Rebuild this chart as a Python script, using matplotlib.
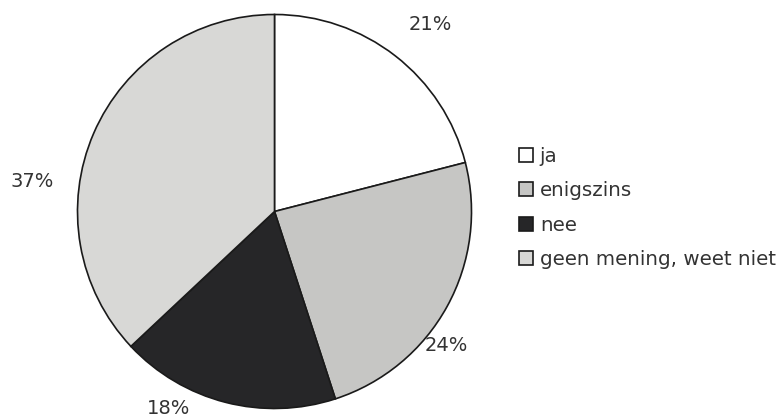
import matplotlib
matplotlib.use("Agg")
import matplotlib.pyplot as plt

# === Datos ===
labels = ["ja", "enigszins", "nee", "geen mening, weet niet"]
values = [21, 24, 18, 37]
pct_labels = ["21%", "24%", "18%", "37%"]
colors = ["#ffffff", "#c6c6c4", "#262628", "#d8d8d6"]

# label positions in pie-radius units (layout only)
label_pos = [(0.79, 0.95), (0.87, -0.68), (-0.54, -1.0), (-1.23, 0.15)]

W, H = 778, 420
cx, cy, r = 274.5, 211.5, 197.0

fig = plt.figure(figsize=(W / 100, H / 100), dpi=100)
ax = fig.add_axes([0, 0, 1, 1])
wedges, _ = ax.pie(values, colors=colors, startangle=90, counterclock=False,
                   radius=1.0,
                   wedgeprops=dict(edgecolor="#1a1a1a", linewidth=1.2))
ax.set_xlim(-cx / r, (W - cx) / r)
ax.set_ylim(-(H - cy) / r, cy / r)
ax.set_aspect("equal")
ax.axis("off")

for txt, (x, y) in zip(pct_labels, label_pos):
    ax.text(x, y, txt, ha="center", va="center", fontsize=14,
            color="#333333", family="DejaVu Sans")

leg = fig.legend(wedges, labels, loc="upper left",
                 bbox_to_anchor=(519 / W, 1 - 147 / H),
                 bbox_transform=fig.transFigure,
                 frameon=False, fontsize=14.3, handlelength=0.7,
                 handleheight=0.7, handletextpad=0.35, labelspacing=0.77,
                 borderpad=0, borderaxespad=0)
for t in leg.get_texts():
    t.set_color("#333333")

fig.savefig("out.png", dpi=100)
